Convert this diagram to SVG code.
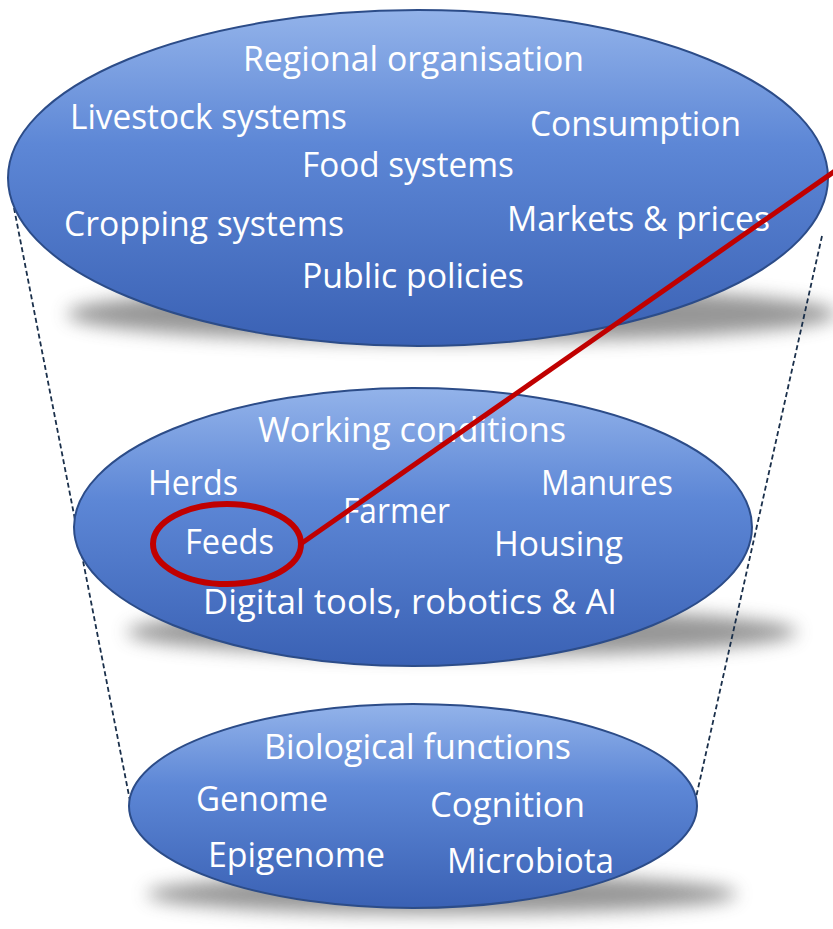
<svg xmlns="http://www.w3.org/2000/svg" width="833" height="929" viewBox="0 0 833 929">
<defs>
<linearGradient id="blue" x1="0" y1="0" x2="0" y2="1">
<stop offset="0" stop-color="#93b3ea"/>
<stop offset="0.4" stop-color="#5d87d6"/>
<stop offset="1" stop-color="#3a61b4"/>
</linearGradient>
<filter id="blur" x="-20%" y="-50%" width="140%" height="200%">
<feGaussianBlur stdDeviation="9"/>
</filter>
</defs>
<style>
.ell{fill:url(#blue);stroke:#2c4c88;stroke-width:2}
.shadow{fill:#7d7d7d;opacity:0.8;filter:url(#blur)}
.t{font-family:"Open Sans","Noto Sans",sans-serif;font-size:35px;fill:#ffffff}
.dash{stroke:#1a2f4a;stroke-width:1.8;stroke-dasharray:5,3;fill:none}
</style>
<rect width="833" height="929" fill="#ffffff"/>
<g id="shadows">
<ellipse class="shadow" cx="452" cy="314" rx="385" ry="28"/>
<ellipse class="shadow" cx="462" cy="632" rx="335" ry="24"/>
<ellipse class="shadow" cx="442" cy="894" rx="295" ry="20"/>
</g>
<g id="connectors">
<line class="dash" x1="14" y1="208" x2="131" y2="806"/>
<line class="dash" x1="822" y1="236" x2="695" y2="802"/>
</g>
<g id="regional">
<ellipse class="ell" cx="418" cy="178" rx="410" ry="168"/>
<text class="t" x="243" y="71" textLength="341" lengthAdjust="spacingAndGlyphs">Regional organisation</text>
<text class="t" x="70" y="129" textLength="277" lengthAdjust="spacingAndGlyphs">Livestock systems</text>
<text class="t" x="530" y="136" textLength="211" lengthAdjust="spacingAndGlyphs">Consumption</text>
<text class="t" x="302" y="177" textLength="212" lengthAdjust="spacingAndGlyphs">Food systems</text>
<text class="t" x="64" y="236" textLength="280" lengthAdjust="spacingAndGlyphs">Cropping systems</text>
<text class="t" x="507" y="231" textLength="263" lengthAdjust="spacingAndGlyphs">Markets &amp; prices</text>
<text class="t" x="302" y="288" textLength="222" lengthAdjust="spacingAndGlyphs">Public policies</text>
</g>
<g id="farm">
<ellipse class="ell" cx="413" cy="527" rx="339" ry="139"/>
<text class="t" x="258" y="442" textLength="308" lengthAdjust="spacingAndGlyphs">Working conditions</text>
<text class="t" x="148" y="495" textLength="90" lengthAdjust="spacingAndGlyphs">Herds</text>
<text class="t" x="541" y="495" textLength="132" lengthAdjust="spacingAndGlyphs">Manures</text>
<text class="t" x="343" y="523" textLength="107" lengthAdjust="spacingAndGlyphs">Farmer</text>
<text class="t" x="185" y="554" textLength="89" lengthAdjust="spacingAndGlyphs">Feeds</text>
<text class="t" x="494" y="556" textLength="129" lengthAdjust="spacingAndGlyphs">Housing</text>
<text class="t" x="203" y="614" textLength="414" lengthAdjust="spacingAndGlyphs">Digital tools, robotics &amp; AI</text>
</g>
<g id="animal">
<ellipse class="ell" cx="413" cy="806" rx="284" ry="102"/>
<text class="t" x="264" y="759" textLength="307" lengthAdjust="spacingAndGlyphs">Biological functions</text>
<text class="t" x="196" y="811" textLength="132" lengthAdjust="spacingAndGlyphs">Genome</text>
<text class="t" x="430" y="817" textLength="155" lengthAdjust="spacingAndGlyphs">Cognition</text>
<text class="t" x="208" y="867" textLength="177" lengthAdjust="spacingAndGlyphs">Epigenome</text>
<text class="t" x="447" y="873" textLength="167" lengthAdjust="spacingAndGlyphs">Microbiota</text>
</g>
<g id="highlight">
<line x1="302" y1="543" x2="835" y2="171" stroke="#c00000" stroke-width="5"/>
<ellipse cx="227" cy="544" rx="74" ry="40" fill="none" stroke="#c00000" stroke-width="6"/>
</g>
</svg>
